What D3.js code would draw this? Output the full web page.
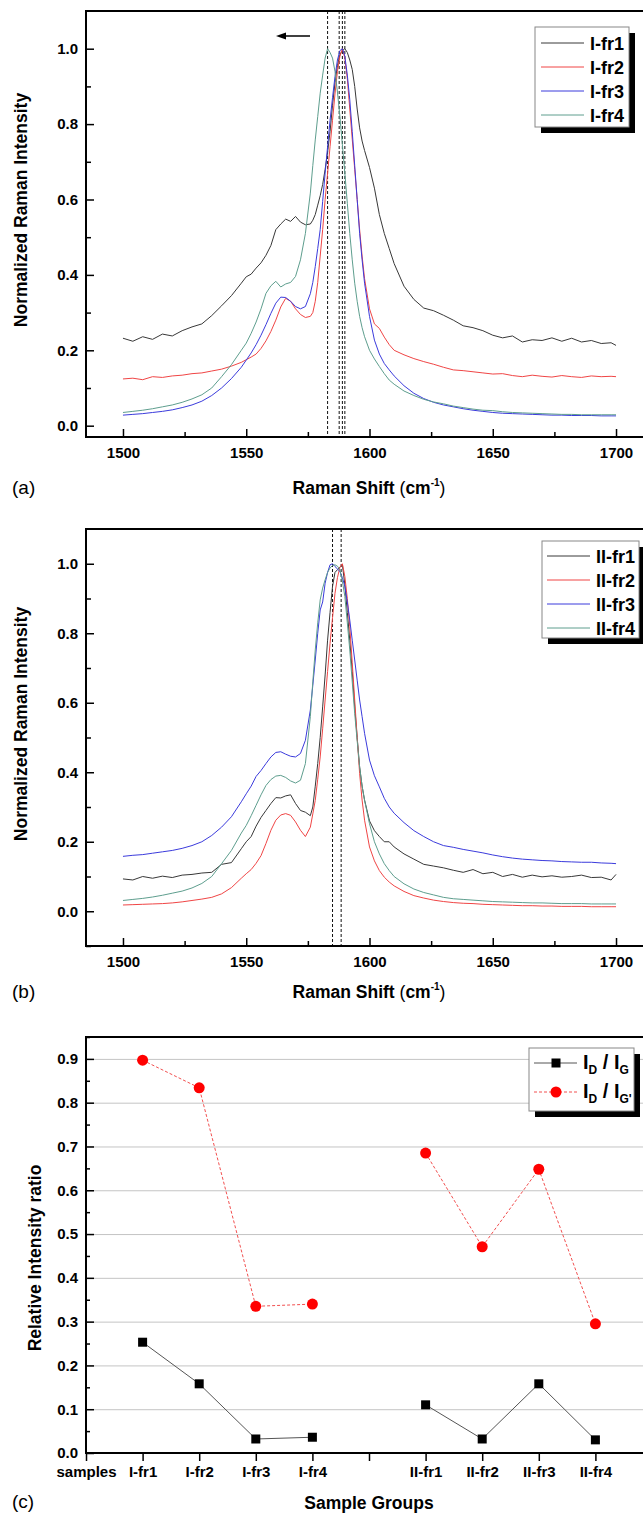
<!DOCTYPE html>
<html>
<head>
<meta charset="utf-8">
<script src="https://cdnjs.cloudflare.com/ajax/libs/d3/7.8.5/d3.min.js"></script>
<style>
  body { margin: 0; background: #fff; }
  svg { display: block; }
  text { font-family: "Liberation Sans", Arial, sans-serif; }
  .tick text { font-weight: bold; font-size: 15px; fill: #000; }
</style>
</head>
<body>
<script>
// raman shift grid (cm-1), shared by panels a and b
var shift = [1500,1504,1508,1512,1516,1520,1524,1528,1532,1536,1540,1544,1548,
  1550,1552,1554,1556,1558,1560,1562,1564,1566,1568,1570,1572,1574,1576,
  1577,1578,1579,1580,1581,1582,1583,1584,1585,1586,1587,1588,1589,1590,1591,1592,1593,1594,1595,1596,1597,
  1598,1600,1602,1604,1606,1608,1610,
  1614,1618,1622,1626,1630,1634,1638,1642,1646,1650,1654,1658,1662,1666,1670,1674,1678,1682,1686,1690,1694,1698,1700];

// panel (a)
var iFr1 = [.232,.224,.236,.229,.243,.238,.252,.262,.27,.292,.318,.345,.378,
  .395,.402,.418,.432,.452,.478,.52,.535,.548,.542,.555,.54,.533,.535,
  .545,.56,.585,.61,.64,.68,.725,.78,.85,.91,.955,.985,.995,1.0,.99,.97,.945,.9,.84,.79,.755,
  .73,.685,.63,.56,.51,.47,.43,
  .37,.335,.312,.305,.293,.28,.265,.26,.252,.24,.233,.238,.222,.228,.226,.233,.224,.232,.222,.226,.218,.22,.213];
var iFr2 = [.124,.126,.122,.13,.128,.132,.134,.138,.14,.145,.15,.158,.168,
  .175,.182,.19,.205,.225,.25,.28,.315,.338,.33,.31,.295,.287,.29,
  .3,.33,.38,.45,.52,.6,.67,.74,.81,.88,.94,.98,1.0,.975,.92,.84,.76,.68,.6,.52,.45,
  .39,.31,.27,.258,.235,.215,.2,
  .188,.178,.17,.163,.155,.148,.146,.143,.14,.137,.138,.133,.13,.134,.131,.129,.133,.13,.128,.132,.13,.131,.13];
var iFr3 = [.028,.03,.032,.035,.038,.042,.048,.055,.065,.08,.1,.125,.155,
  .174,.193,.215,.24,.268,.298,.325,.341,.34,.33,.316,.31,.316,.35,
  .38,.422,.47,.52,.595,.67,.74,.81,.87,.926,.97,.995,1.0,.98,.93,.865,.78,.69,.6,.51,.44,
  .378,.29,.227,.19,.165,.148,.132,
  .106,.086,.072,.062,.055,.05,.045,.041,.038,.035,.033,.032,.031,.03,.029,.028,.028,.027,.027,.027,.026,.026,.026];
var iFr4 = [.035,.038,.041,.045,.05,.055,.062,.071,.082,.1,.13,.162,.2,
  .219,.245,.275,.31,.351,.371,.383,.368,.376,.38,.396,.44,.51,.617,
  .69,.758,.82,.882,.93,.975,1.0,.99,.975,.94,.885,.82,.745,.67,.59,.51,.44,.378,.33,.29,.26,
  .236,.2,.177,.157,.138,.121,.11,
  .092,.08,.07,.063,.058,.052,.048,.044,.041,.04,.037,.035,.034,.033,.032,.031,.03,.03,.029,.029,.029,.029,.029];

// panel (b)
var iiFr1 = [.093,.09,.1,.095,.101,.097,.104,.106,.11,.112,.135,.14,.18,
  .2,.215,.245,.27,.29,.31,.327,.326,.332,.335,.31,.29,.285,.275,
  .3,.36,.425,.5,.588,.68,.78,.86,.935,.975,.983,.99,.997,.94,.86,.78,.69,.588,.5,.415,.36,
  .32,.26,.232,.215,.2,.2,.185,
  .165,.15,.135,.13,.125,.118,.112,.12,.108,.112,.1,.106,.098,.104,.099,.102,.098,.1,.104,.097,.098,.09,.106];
var iiFr2 = [.018,.019,.02,.021,.022,.024,.027,.031,.035,.04,.05,.068,.095,
  .108,.12,.138,.16,.195,.233,.262,.277,.281,.276,.257,.233,.215,.242,
  .28,.319,.38,.444,.525,.608,.69,.771,.845,.915,.96,.99,1.0,.963,.9,.819,.715,.608,.5,.396,.32,
  .262,.185,.145,.117,.098,.084,.073,
  .057,.045,.038,.032,.028,.025,.023,.022,.02,.019,.018,.017,.016,.016,.015,.015,.014,.014,.014,.013,.013,.013,.013];
var iiFr3 = [.158,.161,.163,.167,.171,.175,.181,.189,.2,.218,.242,.272,.315,
  .338,.36,.388,.405,.425,.444,.457,.459,.452,.446,.444,.454,.492,.579,
  .65,.723,.8,.867,.89,.944,.975,.997,1.0,.992,.985,.978,.96,.935,.89,.838,.78,.723,.665,.608,.56,
  .512,.435,.39,.358,.325,.3,.282,
  .255,.232,.215,.2,.189,.184,.178,.173,.168,.162,.157,.153,.15,.148,.146,.145,.143,.142,.141,.141,.139,.138,.137];
var iiFr4 = [.031,.034,.037,.041,.046,.052,.058,.067,.08,.1,.137,.175,.225,
  .247,.275,.305,.335,.362,.379,.389,.391,.385,.375,.369,.377,.425,.56,
  .66,.752,.83,.896,.93,.954,.975,.988,.995,.997,.993,.983,.95,.906,.83,.752,.66,.569,.49,.415,.36,
  .319,.252,.2,.165,.137,.117,.1,
  .079,.064,.054,.047,.04,.036,.034,.032,.03,.028,.027,.026,.025,.024,.024,.023,.022,.022,.022,.021,.021,.021,.021];

var peaksA = [1583, 1587.7, 1589, 1590];
var peaksB = [1585, 1588.5];
var shiftTicks = [1500, 1550, 1600, 1650, 1700];
var shiftMinor = [1525, 1575, 1625, 1675];

// panel (c)
var groups = ["samples", "I-fr1", "I-fr2", "I-fr3", "I-fr4", "", "II-fr1", "II-fr2", "II-fr3", "II-fr4"];
var groupI = [1, 2, 3, 4];
var groupII = [6, 7, 8, 9];
var ratioDG = [0.253, 0.158, 0.032, 0.036, 0.110, 0.032, 0.158, 0.030];
var ratioDG2 = [0.897, 0.834, 0.335, 0.340, 0.685, 0.471, 0.648, 0.295];

var colors = ["#383838", "#f04545", "#3b3bdc", "#5e9e8e"];

var width = 643, height = 1515;
var svg = d3.select("body").append("svg")
  .attr("width", width)
  .attr("height", height);

function blackTicks(g) {
  g.select(".domain").remove();
  g.selectAll(".tick line").style("stroke", "#000").style("stroke-width", 1.5);
}

function frame(x0, y0, x1, y1) {
  svg.append("rect")
    .attr("x", x0).attr("y", y0)
    .attr("width", x1 - x0).attr("height", y1 - y0)
    .attr("fill", "none").attr("stroke", "#000").attr("stroke-width", 2);
}

function shadowBox(x0, y0, x1, y1) {
  svg.append("rect").attr("x", x0 + 6).attr("y", y0 + 6)
    .attr("width", x1 - x0).attr("height", y1 - y0).attr("fill", "#000");
  svg.append("rect").attr("x", x0).attr("y", y0)
    .attr("width", x1 - x0).attr("height", y1 - y0)
    .attr("fill", "#fff").attr("stroke", "#888").attr("stroke-width", 1);
}

function ramanPanel(opt) {
  var x = d3.scaleLinear().domain([1485, 1715]).range([86, 653]);
  var y = d3.scaleLinear().domain(opt.ydom).range([opt.bottom, opt.top]);

  // x axis, ticks inward
  svg.append("g")
    .attr("transform", "translate(0," + opt.bottom + ")")
    .call(d3.axisBottom(x).tickValues(shiftTicks).tickFormat(d3.format("d"))
      .tickSizeInner(-8).tickSizeOuter(0).tickPadding(10))
    .call(blackTicks);
  svg.append("g")
    .attr("transform", "translate(0," + opt.bottom + ")")
    .call(d3.axisBottom(x).tickValues(shiftMinor).tickSizeInner(-5).tickSizeOuter(0).tickFormat(""))
    .call(blackTicks);

  // y axis
  svg.append("g")
    .attr("transform", "translate(86,0)")
    .call(d3.axisLeft(y).tickValues([0, 0.2, 0.4, 0.6, 0.8, 1.0]).tickFormat(d3.format(".1f"))
      .tickSizeInner(-8).tickSizeOuter(0).tickPadding(8))
    .call(blackTicks);
  svg.append("g")
    .attr("transform", "translate(86,0)")
    .call(d3.axisLeft(y).tickValues(opt.yminor).tickSizeInner(-5).tickSizeOuter(0).tickFormat(""))
    .call(blackTicks);

  // dashed peak markers
  svg.selectAll(null).data(opt.peaks).enter().append("line")
    .attr("x1", function(d){ return x(d); }).attr("x2", function(d){ return x(d); })
    .attr("y1", opt.top).attr("y2", opt.bottom)
    .attr("stroke", "#111").attr("stroke-width", 1).attr("stroke-dasharray", "3,2");

  var line = d3.line()
    .x(function(d, i){ return x(shift[i]); })
    .y(function(d){ return y(d); });

  opt.series.forEach(function(s, k) {
    svg.append("path")
      .attr("d", line(s))
      .attr("fill", "none")
      .attr("stroke", colors[k])
      .attr("stroke-width", 1);
  });

  frame(86, opt.top, 653, opt.bottom);

  // legend
  var lg = opt.legend;
  shadowBox(lg.x0, lg.y0, lg.x1, lg.y1);
  opt.names.forEach(function(n, k) {
    var ry = lg.rows[k];
    svg.append("line").attr("x1", lg.l0).attr("x2", lg.l1).attr("y1", ry).attr("y2", ry)
      .attr("stroke", colors[k]).attr("stroke-width", 1);
    svg.append("text").attr("x", lg.tx).attr("y", ry + 6.5)
      .attr("font-size", 18).attr("font-weight", "bold").text(n);
  });

  // axis titles
  svg.append("text")
    .attr("transform", "translate(21," + opt.ylabY + ") rotate(-90)")
    .attr("text-anchor", "middle").attr("dy", "0.35em")
    .attr("font-size", 17.5).attr("font-weight", "bold")
    .text("Normalized Raman Intensity");

  var xl = svg.append("text")
    .attr("x", 369).attr("y", opt.xlabY)
    .attr("text-anchor", "middle")
    .attr("font-size", 17.5).attr("font-weight", "bold");
  xl.append("tspan").text("Raman Shift ");
  xl.append("tspan").attr("font-weight", "normal").text("(");
  xl.append("tspan").text("cm");
  xl.append("tspan").attr("font-size", 10).attr("dy", -8).text("-1");
  xl.append("tspan").attr("font-weight", "normal").attr("dy", 8).text(")");

  svg.append("text").attr("x", 12).attr("y", opt.xlabY)
    .attr("font-size", 19).text(opt.tag);
}

ramanPanel({
  top: 11, bottom: 437, ydom: [-0.03, 1.1],
  yminor: [0.1, 0.3, 0.5, 0.7, 0.9],
  peaks: peaksA,
  series: [iFr1, iFr2, iFr3, iFr4],
  names: ["I-fr1", "I-fr2", "I-fr3", "I-fr4"],
  legend: { x0: 535, y0: 27, x1: 629, y1: 127, rows: [43, 67, 91, 115], l0: 541, l1: 584, tx: 590 },
  ylabY: 210, xlabY: 494, tag: "(a)"
});

// arrow in panel (a)
svg.append("line").attr("x1", 310).attr("x2", 284).attr("y1", 36).attr("y2", 36)
  .attr("stroke", "#000").attr("stroke-width", 1.5);
svg.append("path").attr("d", "M276,36 L286,32.5 L286,39.5 Z").attr("fill", "#000");

ramanPanel({
  top: 529, bottom: 946, ydom: [-0.1, 1.1],
  yminor: [-0.1, 0.1, 0.3, 0.5, 0.7, 0.9],
  peaks: peaksB,
  series: [iiFr1, iiFr2, iiFr3, iiFr4],
  names: ["II-fr1", "II-fr2", "II-fr3", "II-fr4"],
  legend: { x0: 542, y0: 541, x1: 639, y1: 638, rows: [556, 580, 604, 628], l0: 547, l1: 590, tx: 596 },
  ylabY: 724, xlabY: 998, tag: "(b)"
});

// panel (c)
var xC = d3.scaleLinear().domain([0, 10]).range([86, 652]);
var yC = d3.scaleLinear().domain([0, 0.95]).range([1453, 1037]);

svg.append("g")
  .attr("transform", "translate(86,0)")
  .call(d3.axisLeft(yC).tickValues(d3.range(1, 10).map(function(i){ return i / 10; }))
    .tickSize(-(652 - 86)).tickFormat(""))
  .call(function(g){
    g.select(".domain").remove();
    g.selectAll(".tick line").style("stroke", "#c4c4c4").style("stroke-width", 1);
  });

svg.append("g")
  .attr("transform", "translate(0,1453)")
  .call(d3.axisBottom(xC).tickValues(d3.range(0, 10)).tickFormat(function(i){ return groups[i]; })
    .tickSizeInner(8).tickSizeOuter(0).tickPadding(5))
  .call(blackTicks);

svg.append("g")
  .attr("transform", "translate(86,0)")
  .call(d3.axisLeft(yC).tickValues(d3.range(0, 10).map(function(i){ return i / 10; }))
    .tickFormat(d3.format(".1f")).tickSizeInner(-8).tickSizeOuter(0).tickPadding(8))
  .call(blackTicks);
svg.append("g")
  .attr("transform", "translate(86,0)")
  .call(d3.axisLeft(yC).tickValues(d3.range(0, 10).map(function(i){ return i / 10 + 0.05; }))
    .tickFormat("").tickSizeInner(-4).tickSizeOuter(0))
  .call(blackTicks);

var pos = groupI.concat(groupII);
var lineC = d3.line()
  .x(function(d){ return xC(d[0]); })
  .y(function(d){ return yC(d[1]); });

[groupI, groupII].forEach(function(grp, gi) {
  var off = gi * 4;
  svg.append("path")
    .attr("d", lineC(grp.map(function(p, j){ return [p, ratioDG[off + j]]; })))
    .attr("fill", "none").attr("stroke", "#555").attr("stroke-width", 1);
  svg.append("path")
    .attr("d", lineC(grp.map(function(p, j){ return [p, ratioDG2[off + j]]; })))
    .attr("fill", "none").attr("stroke", "#f25050").attr("stroke-width", 1)
    .attr("stroke-dasharray", "3,2");
});

svg.selectAll(".sq").data(ratioDG).enter().append("rect")
  .attr("class", "sq")
  .attr("x", function(d, i){ return xC(pos[i]) - 4.5; })
  .attr("y", function(d){ return yC(d) - 4.5; })
  .attr("width", 9).attr("height", 9).attr("fill", "#000");

svg.selectAll(".dot").data(ratioDG2).enter().append("circle")
  .attr("class", "dot")
  .attr("cx", function(d, i){ return xC(pos[i]); })
  .attr("cy", function(d){ return yC(d); })
  .attr("r", 5.5).attr("fill", "#f00");

frame(86, 1037, 653, 1453);

// legend (c)
shadowBox(529, 1048, 634, 1111);
svg.append("line").attr("x1", 534).attr("x2", 577).attr("y1", 1063).attr("y2", 1063)
  .attr("stroke", "#555").attr("stroke-width", 1);
svg.append("rect").attr("x", 551.5).attr("y", 1058.5).attr("width", 9).attr("height", 9).attr("fill", "#000");
svg.append("line").attr("x1", 534).attr("x2", 577).attr("y1", 1092).attr("y2", 1092)
  .attr("stroke", "#f25050").attr("stroke-width", 1).attr("stroke-dasharray", "3,2");
svg.append("circle").attr("cx", 556).attr("cy", 1092).attr("r", 5.5).attr("fill", "#f00");

[["G", 1063], ["G'", 1092]].forEach(function(r) {
  var t = svg.append("text").attr("x", 583).attr("y", r[1] + 6)
    .attr("font-size", 20).attr("font-weight", "bold");
  t.append("tspan").text("I");
  t.append("tspan").attr("font-size", 12).attr("dy", 5).text("D");
  t.append("tspan").attr("dy", -5).text(" / I");
  t.append("tspan").attr("font-size", 12).attr("dy", 5).text(r[0]);
});

svg.append("text")
  .attr("transform", "translate(35,1258) rotate(-90)")
  .attr("text-anchor", "middle").attr("dy", "0.35em")
  .attr("font-size", 17.5).attr("font-weight", "bold")
  .text("Relative Intensity ratio");

svg.append("text").attr("x", 369).attr("y", 1509)
  .attr("text-anchor", "middle").attr("font-size", 17.5).attr("font-weight", "bold")
  .text("Sample Groups");
svg.append("text").attr("x", 12).attr("y", 1508).attr("font-size", 19).text("(c)");
</script>
</body>
</html>
